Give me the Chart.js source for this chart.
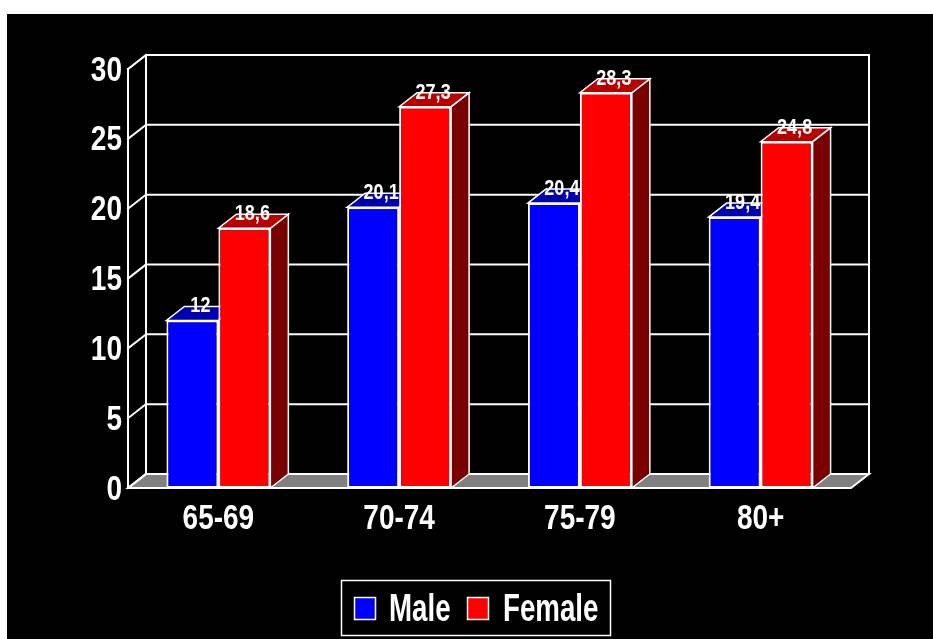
<!DOCTYPE html>
<html>
<head>
<meta charset="utf-8">
<style>
  html, body { margin: 0; padding: 0; background: #ffffff; }
  #wrap { position: relative; width: 933px; height: 639px; }
</style>
<script src="https://cdn.jsdelivr.net/npm/chart.js@4/dist/chart.umd.min.js"></script>
</head>
<body>
<div id="wrap"><canvas id="chart" width="933" height="639"></canvas></div>
<script>
// Age groups and prevalence per sex
const categories = ['65-69', '70-74', '75-79', '80+'];
const maleValues = [12, 20.1, 20.4, 19.4];
const femaleValues = [18.6, 27.3, 28.3, 24.8];
const seriesNames = ['Male', 'Female'];
const yMin = 0, yMax = 30, yStep = 5;

const FONT = "'Liberation Sans', Arial, sans-serif";

// depth of the pseudo-3D box
const DX = 18, DY = 14;

const faceColors = [
  { front: '#0000ff', top: '#0000b0', side: '#000078' },
  { front: '#ff0000', top: '#b80000', side: '#780000' }
];

function poly(ctx, pts, fill, stroke, lw) {
  ctx.beginPath();
  ctx.moveTo(pts[0][0], pts[0][1]);
  for (let i = 1; i < pts.length; i++) ctx.lineTo(pts[i][0], pts[i][1]);
  ctx.closePath();
  if (fill) { ctx.fillStyle = fill; ctx.fill(); }
  if (stroke) { ctx.strokeStyle = stroke; ctx.lineWidth = lw; ctx.stroke(); }
}

function line(ctx, x1, y1, x2, y2) {
  ctx.beginPath();
  ctx.moveTo(x1, y1);
  ctx.lineTo(x2, y2);
  ctx.stroke();
}

// narrow bold text: regular bold face squeezed horizontally
function narrowText(ctx, txt, x, y, size, align, baseline, sx, sy) {
  ctx.save();
  ctx.translate(x, y);
  ctx.scale(sx, sy || 1);
  ctx.font = 'bold ' + size + 'px ' + FONT;
  ctx.textAlign = align;
  ctx.textBaseline = baseline;
  ctx.fillStyle = '#ffffff';
  ctx.fillText(txt, 0, 0);
  ctx.restore();
}

const box3d = {
  id: 'box3d',
  beforeDraw(chart) {
    const ctx = chart.ctx;
    ctx.save();
    ctx.fillStyle = '#ffffff';
    ctx.fillRect(0, 0, chart.width, chart.height);
    ctx.fillStyle = '#000000';
    ctx.fillRect(7, 14, chart.width - 7, chart.height - 14);
    ctx.restore();
  },
  beforeDatasetsDraw(chart) {
    const ctx = chart.ctx;
    const yScale = chart.scales.y;
    const a = chart.chartArea;
    const L = a.left, R = a.right, T = a.top, B = a.bottom;
    ctx.save();
    ctx.lineCap = 'square';
    // floor
    poly(ctx, [[L, B], [R, B], [R + DX, B - DY], [L + DX, B - DY]], '#808080', '#ffffff', 2);
    ctx.strokeStyle = '#ffffff';
    ctx.lineWidth = 2;
    // back wall outline
    line(ctx, L + DX, B - DY, L + DX, T - DY);
    line(ctx, L + DX, T - DY, R + DX, T - DY);
    line(ctx, R + DX, T - DY, R + DX, B - DY);
    // front axis line
    line(ctx, L, T, L, B);
    // grid on back wall and side wall
    yScale.ticks.forEach(t => {
      const y = yScale.getPixelForValue(t.value);
      line(ctx, L + DX, y - DY, R + DX, y - DY);
      line(ctx, L, y, L + DX, y - DY);
    });
    // bar tops and sides
    chart.data.datasets.forEach((ds, di) => {
      const meta = chart.getDatasetMeta(di);
      meta.data.forEach(bar => {
        const p = bar.getProps(['x', 'y', 'base', 'width'], true);
        const l = p.x - p.width / 2, r = p.x + p.width / 2;
        const c = faceColors[di];
        poly(ctx, [[r, p.y], [r + DX, p.y - DY], [r + DX, p.base - DY], [r, p.base]], c.side, '#ffffff', 1.5);
        poly(ctx, [[l, p.y], [r, p.y], [r + DX, p.y - DY], [l + DX, p.y - DY]], c.top, '#ffffff', 1.5);
      });
    });
    // value labels above the bar tops
    chart.data.datasets.forEach((ds, di) => {
      const meta = chart.getDatasetMeta(di);
      meta.data.forEach((bar, i) => {
        const p = bar.getProps(['x', 'y', 'width'], true);
        const l = p.x - p.width / 2, r = p.x + p.width / 2;
        const txt = String(ds.data[i]).replace('.', ',');
        narrowText(ctx, txt, (l + r + DX) / 2 - 1, p.y - DY, 22, 'center', 'middle', 0.82);
      });
    });
    ctx.restore();
  },
  afterDraw(chart) {
    const ctx = chart.ctx;
    const xs = chart.scales.x, ys = chart.scales.y;
    // axis tick labels
    ys.ticks.forEach(t => {
      narrowText(ctx, String(t.value), chart.chartArea.left - 6, ys.getPixelForValue(t.value) + 2, 35, 'right', 'middle', 0.8);
    });
    xs.ticks.forEach((t, i) => {
      narrowText(ctx, chart.data.labels[i], xs.getPixelForTick(i), 519, 35, 'center', 'middle', 0.8);
    });
    // legend box
    ctx.save();
    ctx.strokeStyle = '#ffffff';
    ctx.lineWidth = 1.5;
    ctx.strokeRect(341.5, 580.5, 269, 55);
    const items = [
      { x: 354, tx: 389, color: faceColors[0].front, label: chart.data.datasets[0].label },
      { x: 467, tx: 503, color: faceColors[1].front, label: chart.data.datasets[1].label }
    ];
    items.forEach(it => {
      ctx.fillStyle = it.color;
      ctx.fillRect(it.x, 597, 22, 23);
      ctx.strokeStyle = '#ffffff';
      ctx.lineWidth = 1.5;
      ctx.strokeRect(it.x + 0.5, 597.5, 21, 22);
      narrowText(ctx, it.label, it.tx, 621, 39, 'left', 'alphabetic', 0.71);
    });
    ctx.restore();
  }
};

new Chart(document.getElementById('chart'), {
  type: 'bar',
  data: {
    labels: categories,
    datasets: [
      { label: seriesNames[0], data: maleValues, backgroundColor: faceColors[0].front },
      { label: seriesNames[1], data: femaleValues, backgroundColor: faceColors[1].front }
    ]
  },
  options: {
    responsive: false,
    animation: false,
    devicePixelRatio: 1,
    layout: { padding: { left: 0, right: 82, top: 69, bottom: 0 } },
    datasets: {
      bar: {
        categoryPercentage: 0.575,
        barPercentage: 1,
        borderColor: '#ffffff',
        borderWidth: 2,
        borderSkipped: false
      }
    },
    plugins: {
      legend: { display: false },
      tooltip: { enabled: false }
    },
    scales: {
      x: {
        grid: { display: false },
        border: { display: false },
        ticks: { display: false },
        afterFit(scale) { scale.height = 151; }
      },
      y: {
        min: yMin,
        max: yMax,
        grid: { display: false },
        border: { display: false },
        ticks: { stepSize: yStep, display: false },
        afterFit(scale) { scale.width = 128; }
      }
    }
  },
  plugins: [box3d]
});
</script>
</body>
</html>
